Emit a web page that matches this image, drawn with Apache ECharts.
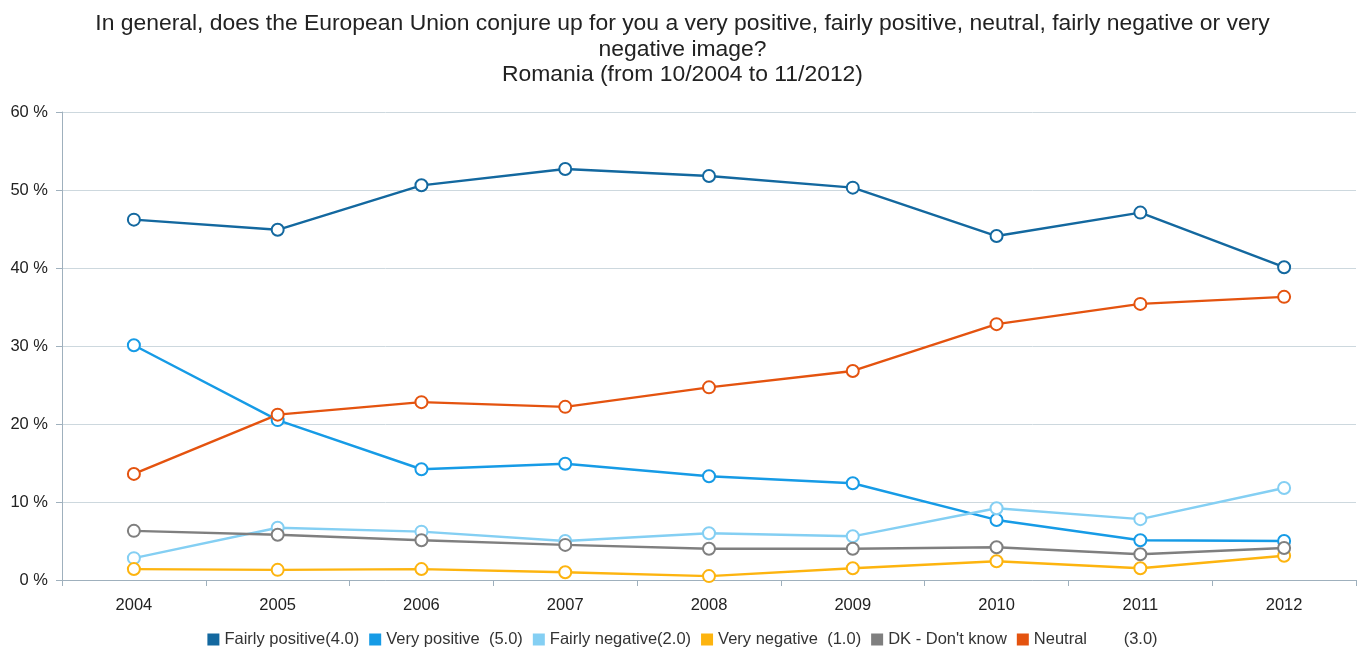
<!DOCTYPE html>
<html>
<head>
<meta charset="utf-8">
<script src="https://cdn.jsdelivr.net/npm/echarts@6/dist/echarts.min.js"></script>
<style>
  html, body { margin: 0; padding: 0; background: #fff; }
  #chart { width: 1365px; height: 648px; }
</style>
</head>
<body>
<div id="chart"></div>
<script>
// years on the x axis
const years = ['2004', '2005', '2006', '2007', '2008', '2009', '2010', '2011', '2012'];

// values (%)
const fairlyPositive = [46.2, 44.9, 50.6, 52.7, 51.8, 50.3, 44.1, 47.1, 40.1];
const veryPositive = [30.1, 20.5, 14.2, 14.9, 13.3, 12.4, 7.7, 5.1, 5.0];
const fairlyNegative = [2.8, 6.7, 6.2, 5.0, 6.0, 5.6, 9.2, 7.8, 11.8];
const veryNegative = [1.4, 1.3, 1.4, 1.0, 0.5, 1.5, 2.4, 1.5, 3.1];
const dontKnow = [6.3, 5.8, 5.1, 4.5, 4.0, 4.0, 4.2, 3.3, 4.1];
const neutral = [13.6, 21.2, 22.8, 22.2, 24.7, 26.8, 32.8, 35.4, 36.3];

const seriesNames = [
    'Fairly positive(4.0)',
    'Very positive  (5.0)',
    'Fairly negative(2.0)',
    'Very negative  (1.0)',
    "DK - Don't know",
    'Neutral        (3.0)'
];
const seriesData = [fairlyPositive, veryPositive, fairlyNegative, veryNegative, dontKnow, neutral];
const colors = ['#13689f', '#169be6', '#84cff3', '#fdb40f', '#7f7f7f', '#e4530f'];

const chart = echarts.init(document.getElementById('chart'));

const font = 'Liberation Sans, Arial, sans-serif';

const option = {
    animation: false,
    color: colors,
    title: {
        text: 'In general, does the European Union conjure up for you a very positive, fairly positive, neutral, fairly negative or very\nnegative image?\nRomania (from 10/2004 to 11/2012)',
        left: 'center',
        top: 6,
        textStyle: {
            fontFamily: font,
            fontWeight: 'normal',
            fontSize: 22.9,
            lineHeight: 25.5,
            color: '#222'
        }
    },
    legend: {
        top: 626,
        left: 'center',
        itemWidth: 12,
        itemHeight: 12,
        itemGap: 10,
        icon: 'rect',
        textStyle: {
            fontFamily: font,
            fontSize: 16.5,
            color: '#333'
        },
        data: seriesNames
    },
    grid: {
        left: 62,
        right: 9,
        top: 112,
        bottom: 68
    },
    xAxis: {
        type: 'category',
        data: years,
        boundaryGap: true,
        axisLine: { lineStyle: { color: '#9fb0bd', width: 1 } },
        axisTick: { show: true, length: 6, lineStyle: { color: '#9fb0bd' } },
        axisLabel: {
            margin: 17,
            fontFamily: font,
            fontSize: 16.5,
            color: '#222'
        }
    },
    yAxis: {
        type: 'value',
        min: 0,
        max: 60,
        interval: 10,
        axisLine: { show: true, lineStyle: { color: '#9fb0bd' } },
        axisTick: { show: true, length: 6, inside: false, lineStyle: { color: '#9fb0bd' } },
        axisLabel: {
            formatter: '{value} %',
            margin: 14,
            fontFamily: font,
            fontSize: 16.5,
            color: '#222'
        },
        splitLine: { lineStyle: { color: '#cdd8de', width: 1 } }
    },
    series: seriesNames.map((name, i) => ({
        name: name,
        type: 'line',
        data: seriesData[i],
        symbol: 'emptyCircle',
        symbolSize: 12,
        lineStyle: { width: 2.4 },
        itemStyle: { borderWidth: 2.4 }
    }))
};

chart.setOption(option);
</script>
</body>
</html>
